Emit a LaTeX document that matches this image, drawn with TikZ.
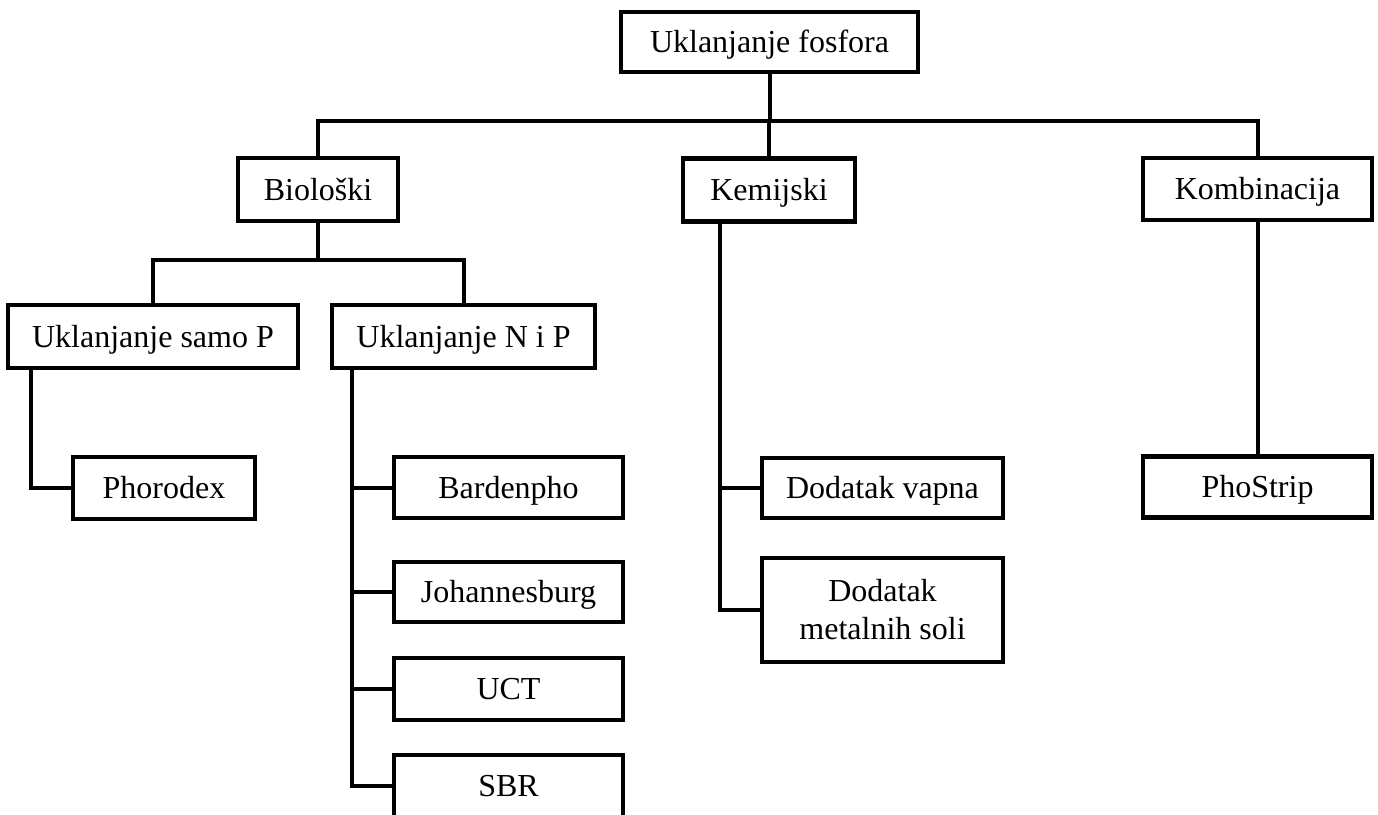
\documentclass[tikz,border=0pt]{standalone}
\usepackage{fontspec}
\setmainfont{Liberation Serif}
\begin{document}
\begin{tikzpicture}[x=1pt,y=-1pt,
  box/.style={draw, fill=white, line width=4.5pt, rectangle, inner sep=0pt,
    align=center, font=\fontsize{32}{38}\selectfont},
  one/.style={box, text height=24pt, text depth=3pt},
  conn/.style={line width=4pt, line join=miter}]
\useasboundingbox (0,0) rectangle (1378,814);

% boxes
\node[one, minimum width=297pt, minimum height=60pt]  (top)  at (769.5,42)  {Uklanjanje fosfora};
\node[one, minimum width=160pt, minimum height=63pt]  (bio)  at (318,189.5) {Biološki};
\node[one, minimum width=172pt, minimum height=63pt]  (kem)  at (769,190)   {Kemijski};
\node[one, minimum width=229pt, minimum height=62pt]  (komb) at (1257.5,189){Kombinacija};
\node[one, minimum width=290pt, minimum height=63pt]  (samo) at (153,336.5) {Uklanjanje samo P};
\node[one, minimum width=263pt, minimum height=63pt]  (nip)  at (463.5,336.5){Uklanjanje N i P};
\node[one, minimum width=182pt, minimum height=62pt]  (phor) at (164,488)   {Phorodex};
\node[one, minimum width=229pt, minimum height=61pt]  (bard) at (508.5,487.5){Bardenpho};
\node[one, minimum width=229pt, minimum height=60pt]  (joh)  at (508.5,592) {Johannesburg};
\node[one, minimum width=229pt, minimum height=62pt]  (uct)  at (508.5,689) {UCT};
\node[one, minimum width=229pt, minimum height=62pt]  (sbr)  at (508.5,786) {SBR};
\node[one, minimum width=241pt, minimum height=60pt]  (vap)  at (882.5,488) {Dodatak vapna};
\node[box, minimum width=241pt, minimum height=104pt] (met)  at (882.5,610) {Dodatak\\metalnih soli};
\node[one, minimum width=229pt, minimum height=61pt]  (phos) at (1257.5,487){PhoStrip};

% bus lines
\coordinate (busA) at (0,121);
\coordinate (busB) at (0,260);
\coordinate (t1) at ([xshift=25pt]samo.south west);
\coordinate (t2) at ([xshift=22pt]nip.south west);
\coordinate (t3) at ([xshift=39pt]kem.south west);

% connectors
\draw[conn] (top.south) -- (top.south |- busA);
\draw[conn] (bio.north) |- (komb.north |- busA) -- (komb.north);
\draw[conn] (kem.north) -- (kem.north |- busA);
\draw[conn] (bio.south) -- (bio.south |- busB);
\draw[conn] (samo.north) |- (nip.north |- busB) -- (nip.north);
\draw[conn] (t1) |- (phor.west);
\draw[conn] (t2) |- (sbr.west);
\foreach \b in {bard,joh,uct}
  \draw[conn] (t2 |- \b.west) -- (\b.west);
\draw[conn] (t3) |- (met.west);
\draw[conn] (t3 |- vap.west) -- (vap.west);
\draw[conn] (komb.south) -- (phos.north);
\end{tikzpicture}
\end{document}
